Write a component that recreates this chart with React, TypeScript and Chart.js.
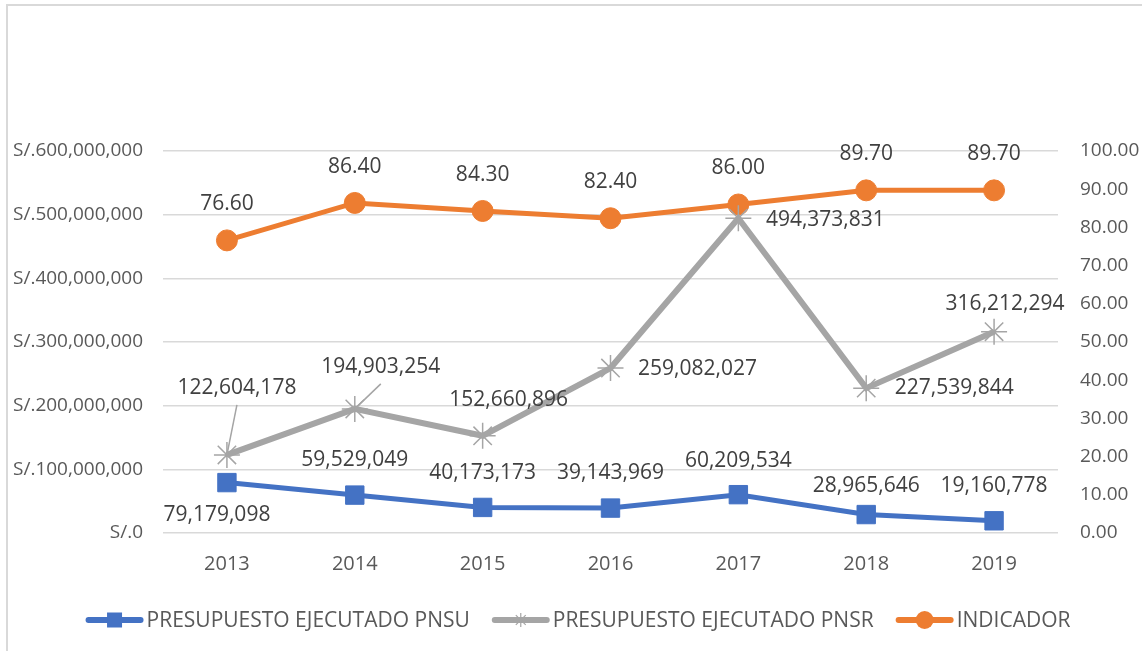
import React, { useEffect, useRef } from "react";
import { Chart, registerables } from "chart.js";

Chart.register(...registerables);

// ---------- data ----------
const YEARS = ["2013", "2014", "2015", "2016", "2017", "2018", "2019"];
const PNSU = [79179098, 59529049, 40173173, 39143969, 60209534, 28965646, 19160778];
const PNSR = [122604178, 194903254, 152660896, 259082027, 494373831, 227539844, 316212294];
const INDICADOR = [76.6, 86.4, 84.3, 82.4, 86.0, 89.7, 89.7];
const SERIES_NAMES = [
  "PRESUPUESTO EJECUTADO PNSU",
  "PRESUPUESTO EJECUTADO PNSR",
  "INDICADOR",
];

// ---------- label placement (pixel offsets from each point) ----------
const PNSU_LABEL_DX = [-10, 0, 0, 0, 0, 0, 0];
const PNSU_LABEL_DY = [32, -35, -34, -35, -34, -29, -35];
const PNSR_LABEL_DX = [10, 26, 26, 87, 87, 88, 11];
const PNSR_LABEL_DY = [-67, -42, -36, 1, 2, 0, -28];
const PNSR_LEADER = [true, true, false, false, false, false, false];
const IND_LABEL_DY = -36;

// ---------- styles ----------
const BLUE = "#4472C4";
const GRAY = "#A5A5A5";
const ORANGE = "#ED7D31";
const FONT = "'Open Sans', 'DejaVu Sans', sans-serif";
const LABEL_COLOR = "#404040";
const TICK_COLOR = "#595959";
const GRID_COLOR = "#D9D9D9";

const fmtMoney = (v: number) => v.toLocaleString("en-US");

const labelsPlugin = {
  id: "customLabels",
  afterDatasetsDraw(chart: any) {
    const ctx = chart.ctx as CanvasRenderingContext2D;
    ctx.save();
    ctx.font = `21px ${FONT}`;
    ctx.fillStyle = LABEL_COLOR;
    ctx.textAlign = "center";
    ctx.textBaseline = "middle";

    const m0 = chart.getDatasetMeta(0);
    m0.data.forEach((pt: any, i: number) => {
      ctx.fillText(fmtMoney(PNSU[i]), pt.x + PNSU_LABEL_DX[i], pt.y + PNSU_LABEL_DY[i]);
    });

    const m1 = chart.getDatasetMeta(1);
    m1.data.forEach((pt: any, i: number) => {
      const lx = pt.x + PNSR_LABEL_DX[i];
      const ly = pt.y + PNSR_LABEL_DY[i];
      if (PNSR_LEADER[i]) {
        ctx.save();
        ctx.strokeStyle = GRAY;
        ctx.lineWidth = 1.5;
        ctx.beginPath();
        ctx.moveTo(lx, ly + 17);
        ctx.lineTo(pt.x, pt.y);
        ctx.stroke();
        ctx.restore();
      }
      ctx.fillText(fmtMoney(PNSR[i]), lx, ly);
    });

    const m2 = chart.getDatasetMeta(2);
    m2.data.forEach((pt: any, i: number) => {
      ctx.fillText(INDICADOR[i].toFixed(2), pt.x, pt.y + IND_LABEL_DY);
    });
    ctx.restore();
  },
};

const legendPlugin = {
  id: "customLegend",
  afterDraw(chart: any) {
    const ctx = chart.ctx as CanvasRenderingContext2D;
    const y = 620;
    const lineLen = 58;
    const gapText = 3;
    const gapItem = 22;
    ctx.save();
    ctx.font = `21px ${FONT}`;
    const widths = SERIES_NAMES.map((n) => ctx.measureText(n).width);
    const total =
      widths.reduce((a, b) => a + b, 0) + SERIES_NAMES.length * (lineLen + gapText) + gapItem * (SERIES_NAMES.length - 1);
    let x = 578 - total / 2;
    const colors = [BLUE, GRAY, ORANGE];
    SERIES_NAMES.forEach((name, i) => {
      const c = colors[i];
      ctx.strokeStyle = c;
      ctx.lineWidth = 6;
      ctx.lineCap = "round";
      ctx.beginPath();
      ctx.moveTo(x + 3, y);
      ctx.lineTo(x + lineLen - 3, y);
      ctx.stroke();
      const cx = x + lineLen / 2;
      ctx.fillStyle = c;
      if (i === 0) {
        ctx.fillRect(cx - 7.5, y - 7.5, 15, 15);
      } else if (i === 1) {
        ctx.lineWidth = 1.2;
        ctx.lineCap = "butt";
        ctx.beginPath();
        const r = 7;
        ctx.moveTo(cx - r, y);
        ctx.lineTo(cx + r, y);
        ctx.moveTo(cx, y - r);
        ctx.lineTo(cx, y + r);
        const d = r * Math.SQRT1_2;
        ctx.moveTo(cx - d, y - d);
        ctx.lineTo(cx + d, y + d);
        ctx.moveTo(cx - d, y + d);
        ctx.lineTo(cx + d, y - d);
        ctx.stroke();
      } else {
        ctx.beginPath();
        ctx.arc(cx, y, 9, 0, Math.PI * 2);
        ctx.fill();
      }
      ctx.fillStyle = TICK_COLOR;
      ctx.textAlign = "left";
      ctx.textBaseline = "middle";
      ctx.fillText(name, x + lineLen + gapText, y + 1);
      x += lineLen + gapText + widths[i] + gapItem;
    });
    ctx.restore();
  },
};

export default function App() {
  const ref = useRef<HTMLCanvasElement | null>(null);

  useEffect(() => {
    if (!ref.current) return;
    const chart = new Chart(ref.current, {
      type: "line",
      data: {
        labels: YEARS,
        datasets: [
          {
            label: SERIES_NAMES[0],
            data: PNSU,
            yAxisID: "y",
            borderColor: BLUE,
            backgroundColor: BLUE,
            borderWidth: 5,
            pointStyle: "rect",
            pointRadius: 13,
            pointBorderWidth: 1,
            pointBorderColor: BLUE,
            pointBackgroundColor: BLUE,
            tension: 0,
          },
          {
            label: SERIES_NAMES[1],
            data: PNSR,
            yAxisID: "y",
            borderColor: GRAY,
            backgroundColor: GRAY,
            borderWidth: 6,
            pointStyle: "star",
            pointRadius: 13,
            pointBorderWidth: 1.5,
            pointBorderColor: GRAY,
            tension: 0,
          },
          {
            label: SERIES_NAMES[2],
            data: INDICADOR,
            yAxisID: "y1",
            borderColor: ORANGE,
            backgroundColor: ORANGE,
            borderWidth: 5,
            pointStyle: "circle",
            pointRadius: 10.5,
            pointBorderWidth: 1,
            pointBorderColor: ORANGE,
            pointBackgroundColor: ORANGE,
            tension: 0,
          },
        ],
      },
      options: {
        animation: false,
        responsive: false,
        maintainAspectRatio: false,
        layout: { padding: { top: 151, left: 0, right: 0, bottom: 0 } },
        plugins: {
          legend: { display: false },
          tooltip: { enabled: false },
          title: { display: false },
        },
        scales: {
          x: {
            offset: true,
            grid: { display: false, drawTicks: false },
            border: { display: false },
            ticks: { color: TICK_COLOR, font: { family: FONT, size: 20 }, padding: 19 },
            afterFit: (s: any) => {
              s.height = 118;
            },
          },
          y: {
            position: "left",
            min: 0,
            max: 600000000,
            grid: { color: GRID_COLOR, lineWidth: 1.5, drawTicks: false },
            border: { display: false },
            ticks: {
              stepSize: 100000000,
              color: TICK_COLOR,
              font: { family: FONT, size: 19 },
              padding: 20,
              callback: (v: any) => "S/." + Number(v).toLocaleString("en-US"),
            },
            afterFit: (s: any) => {
              s.width = 163;
            },
          },
          y1: {
            position: "right",
            min: 0,
            max: 100,
            grid: { display: false, drawTicks: false },
            border: { display: false },
            ticks: {
              stepSize: 10,
              color: TICK_COLOR,
              font: { family: FONT, size: 19 },
              padding: 22,
              callback: (v: any) => Number(v).toFixed(2),
            },
            afterFit: (s: any) => {
              s.width = 84;
            },
          },
        },
      },
      plugins: [labelsPlugin, legendPlugin],
    });
    return () => chart.destroy();
  }, []);

  return (
    <div
      style={{
        position: "fixed",
        left: 0,
        top: 0,
        width: 1142,
        height: 651,
        background: "#fff",
        overflow: "hidden",
      }}
    >
      <div
        style={{
          position: "absolute",
          left: 6,
          top: 4,
          width: 1140,
          height: 700,
          border: "2px solid #D9D9D9",
          boxSizing: "border-box",
        }}
      />
      <canvas
        ref={ref}
        width={1142}
        height={651}
        style={{ position: "absolute", left: 0, top: 0, width: 1142, height: 651 }}
      />
    </div>
  );
}
